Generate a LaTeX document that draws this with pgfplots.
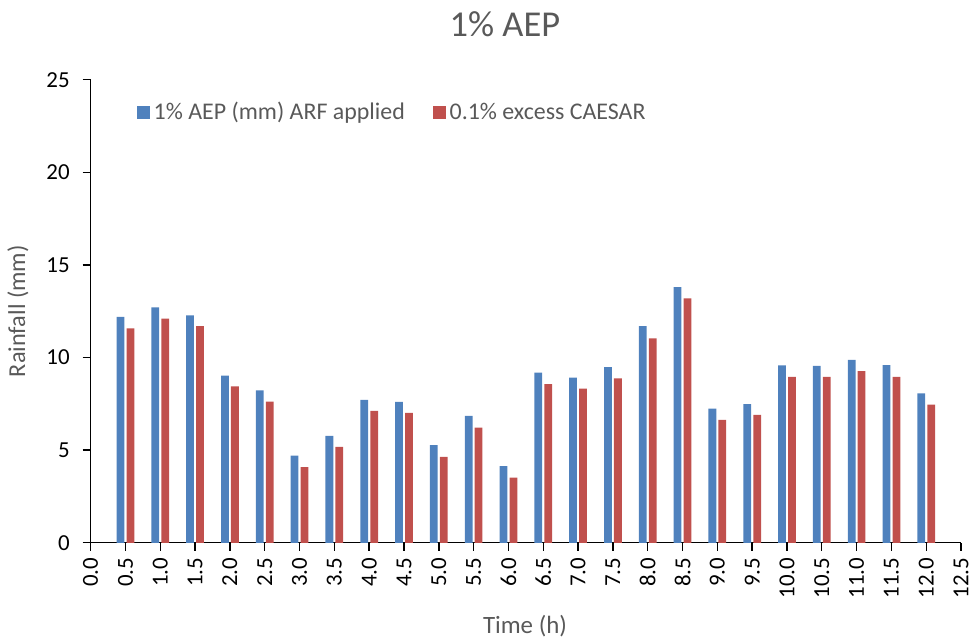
\documentclass[border=0pt]{standalone}
\usepackage{fontspec}
\setmainfont{Carlito}
\usepackage{pgfplots}
\pgfplotsset{compat=1.18}

\definecolor{exblue}{HTML}{4F81BD}
\definecolor{exred}{HTML}{C0504D}
\definecolor{txtgrey}{HTML}{595959}

\pgfplotstableread{
t   aep    caesar
0.5 12.19  11.58
1.0 12.71  12.10
1.5 12.28  11.69
2.0 9.03   8.44
2.5 8.23   7.62
3.0 4.70   4.09
3.5 5.77   5.18
4.0 7.71   7.12
4.5 7.60   7.01
5.0 5.27   4.64
5.5 6.85   6.22
6.0 4.14   3.52
6.5 9.19   8.57
7.0 8.91   8.32
7.5 9.48   8.87
8.0 11.69  11.04
8.5 13.80  13.19
9.0 7.24   6.63
9.5 7.49   6.90
10.0 9.57  8.96
10.5 9.55  8.95
11.0 9.88  9.27
11.5 9.59  8.96
12.0 8.06  7.46
}\rain

\begin{document}
\begin{tikzpicture}
\useasboundingbox (-45.5pt,-48.5pt) rectangle (444pt,272.5pt);
\begin{axis}[
  at={(0,0)}, anchor=south west,
  scale only axis,
  width=437pt, height=232.5pt,
  xmin=0, xmax=12.5, ymin=0, ymax=25,
  axis x line=bottom, axis y line=left,
  axis line style={-, black, line width=0.7pt},
  tick style={black, line width=0.7pt},
  tick align=outside,
  major tick length=4pt,
  xtick={0,0.5,...,12.5},
  ytick={0,5,...,25},
  /pgf/number format/assume math mode=true,
  xticklabel style={rotate=90, anchor=east, font=\fontsize{11.5}{13}\selectfont,
    /pgf/number format/.cd, fixed, fixed zerofill, precision=1},
  yticklabel style={font=\fontsize{11.5}{13}\selectfont, xshift=-3pt},
  title={1\% AEP},
  title style={at={(axis description cs:0.476,1.093)}, anchor=center,
    font=\fontsize{18.3}{20}\selectfont, text=txtgrey},
  xlabel={Time (h)},
  xlabel style={at={(axis description cs:0.499,-0.18)}, anchor=center,
    font=\fontsize{12.5}{14}\selectfont, text=txtgrey},
  ylabel={Rainfall (mm)},
  ylabel style={at={(axis description cs:-0.0835,0.5)}, anchor=center,
    font=\fontsize{12.2}{14}\selectfont, text=txtgrey},
  legend style={at={(0.0526,0.929)}, anchor=west, draw=none, fill=none,
    inner sep=0pt, legend columns=2,
    font=\fontsize{12}{14}\selectfont, text=txtgrey,
    /tikz/every even column/.append style={column sep=12pt}},
  legend image code/.code={\fill[#1] (0pt,-3.25pt) rectangle (6.5pt,3.25pt);},
  clip=false,
]
\addplot[ybar, bar width=3.9pt, bar shift=-2.5pt, fill=exblue, draw=none]
  table[x=t, y=aep] {\rain};
\addplot[ybar, bar width=3.9pt, bar shift=2.5pt, fill=exred, draw=none]
  table[x=t, y=caesar] {\rain};
\legend{1\% AEP (mm) ARF applied, 0.1\% excess CAESAR}
\end{axis}
\end{tikzpicture}
\end{document}
